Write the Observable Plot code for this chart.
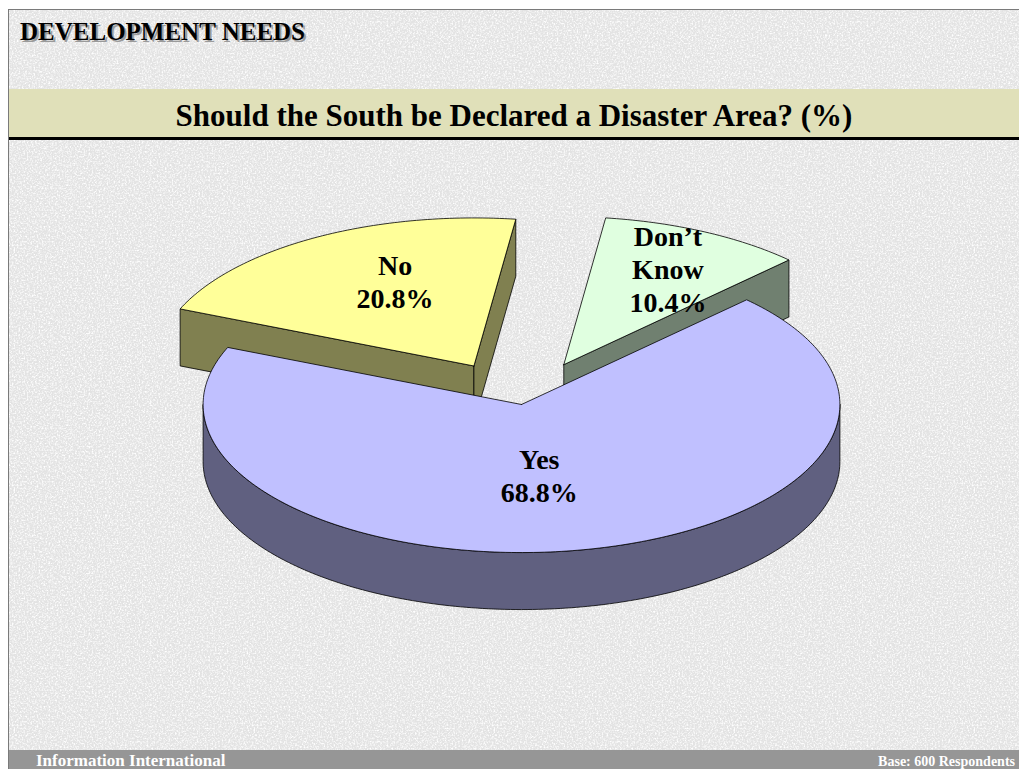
<!DOCTYPE html>
<html>
<head>
<meta charset="utf-8">
<script src="https://cdn.jsdelivr.net/npm/d3@7"></script>
<script src="https://cdn.jsdelivr.net/npm/@observablehq/plot@0.6"></script>
<style>
  html, body { margin: 0; padding: 0; background: #fff; }
  body { width: 1019px; height: 769px; position: relative; overflow: hidden;
         font-family: "Liberation Serif", "Times New Roman", serif; }
  #frame { position: absolute; left: 8px; top: 9px; width: 1011px; height: 760px;
           border-left: 1px solid #7a7a7a; border-top: 1px solid #7a7a7a;
           background-color: #e3e3e3;
           background-image: url("data:image/svg+xml;utf8,<svg xmlns='http://www.w3.org/2000/svg' width='240' height='240'><filter id='n'><feTurbulence type='fractalNoise' baseFrequency='0.6' numOctaves='3' seed='4' stitchTiles='stitch'/><feColorMatrix values='0 0 0 0 1  0 0 0 0 1  0 0 0 0 1  2.6 0 0 0 -1.1'/></filter><rect width='240' height='240' filter='url(%23n)'/></svg>"); }
  #header { position: absolute; left: 20px; top: 18px; font-size: 25px; font-weight: bold;
            color: #000; text-shadow: 2px 2px 0 #9a9a9a; }
  #band { position: absolute; left: 9px; top: 89px; width: 1010px; height: 48px;
          background: #e0e0b9; border-bottom: 3px solid #000;
          text-align: center; font-size: 31px; font-weight: bold; line-height: 54px; color: #000; }
  #chart { position: absolute; left: 0; top: 150px; }
  #footer { position: absolute; left: 9px; top: 750px; width: 1010px; height: 19px;
            background: #969696; color: #fff; font-weight: bold; line-height: 22px; }
  #footer .l { position: absolute; left: 27px; font-size: 17px; }
  #footer .r { position: absolute; right: 4px; font-size: 14px; line-height: 23px; }
</style>
</head>
<body>
<div id="frame"></div>
<div id="header">DEVELOPMENT NEEDS</div>
<div id="band">Should the South be Declared a Disaster Area? (%)</div>
<div id="chart"></div>
<div id="footer"><span class="l">Information International</span><span class="r">Base: 600 Respondents</span></div>
<script>
// ---- data ----
const categories = ["Yes", "No", "Don\u2019t Know"];
const percents = [68.8, 20.8, 10.4];
const labelTexts = ["Yes\n68.8%", "No\n20.8%", "Don\u2019t\nKnow\n10.4%"];

// ---- style ----
const topColors = ["#c0c0ff", "#ffff99", "#e0ffe0"];
const sideColors = ["#606080", "#808050", "#708070"];
const explode = [0, 0.3, 0.3];
const labelR = [0.45, 0.56, 0.71];
const labelDX = [-10, 10, 4];
const labelDY = [5, -13, -2];
const START = -45 * Math.PI / 180;
const TILT = 0.465;
const DEPTH = 0.179;
const drawOrder = [1, 2, 0];

// ---- geometry from data ----
const total = d3.sum(percents);
let acc = START;
const slices = percents.map((v, i) => {
  const a0 = acc;
  const a1 = acc + v / total * 2 * Math.PI;
  acc = a1;
  const m = (a0 + a1) / 2;
  return {i, a0, a1, m,
    ox: explode[i] * Math.cos(m), oy: explode[i] * TILT * Math.sin(m)};
});
const P = (s, t, dz = 0) => ({x: s.ox + Math.cos(t), y: s.oy + TILT * Math.sin(t) + dz});
const arcPts = (s, t0, t1, dz = 0) => {
  const n = Math.max(2, Math.ceil(Math.abs(t1 - t0) / (Math.PI / 180)));
  return d3.range(n + 1).map(k => P(s, t0 + (t1 - t0) * k / n, dz));
};
const close = pts => pts.concat([pts[0]]);

const polys = [];
for (const idx of drawOrder) {
  const s = slices[idx];
  const apex = {x: s.ox, y: s.oy};
  const apexB = {x: s.ox, y: s.oy + DEPTH};
  // radial faces facing the viewer
  if (Math.cos(s.a0) < 0) polys.push({fill: sideColors[idx], pts: close([apex, P(s, s.a0), P(s, s.a0, DEPTH), apexB])});
  if (Math.cos(s.a1) > 0) polys.push({fill: sideColors[idx], pts: close([apex, P(s, s.a1), P(s, s.a1, DEPTH), apexB])});
  // outer front wall
  for (let k = -1; k <= 1; k++) {
    const lo = Math.max(s.a0, 2 * Math.PI * k), hi = Math.min(s.a1, Math.PI + 2 * Math.PI * k);
    if (hi > lo) polys.push({fill: sideColors[idx], pts: close(arcPts(s, lo, hi).concat(arcPts(s, hi, lo, DEPTH)))});
  }
  // top face
  polys.push({fill: topColors[idx], pts: close([apex].concat(arcPts(s, s.a0, s.a1)))});
}

const labels = slices.map(s => ({
  x: s.ox + labelR[s.i] * Math.cos(s.m),
  y: s.oy + labelR[s.i] * TILT * Math.sin(s.m),
  text: labelTexts[s.i], dx: labelDX[s.i], dy: labelDY[s.i]
}));

const W = 1019, H = 600, U = 318.4, CX = 521, CY = 254;
const chart = Plot.plot({
  width: W, height: H, margin: 0,
  style: {background: "transparent", overflow: "visible"},
  x: {domain: [-CX / U, (W - CX) / U], range: [0, W], axis: null},
  y: {domain: [-CY / U, (H - CY) / U], range: [0, H], axis: null},
  marks: [
    ...polys.map(p => Plot.line(p.pts, {x: "x", y: "y", fill: p.fill, stroke: "#000", strokeWidth: 0.8, strokeLinejoin: "round", curve: "linear"})),
    ...labels.map(l => Plot.text([l], {x: "x", y: "y", text: "text", dx: l.dx, dy: l.dy, fontSize: 28, fontWeight: "bold",
      fontFamily: "'Liberation Serif','Times New Roman',serif", lineHeight: 1.17, fill: "#000"}))
  ]
});
document.getElementById("chart").appendChild(chart);
</script>
</body>
</html>
